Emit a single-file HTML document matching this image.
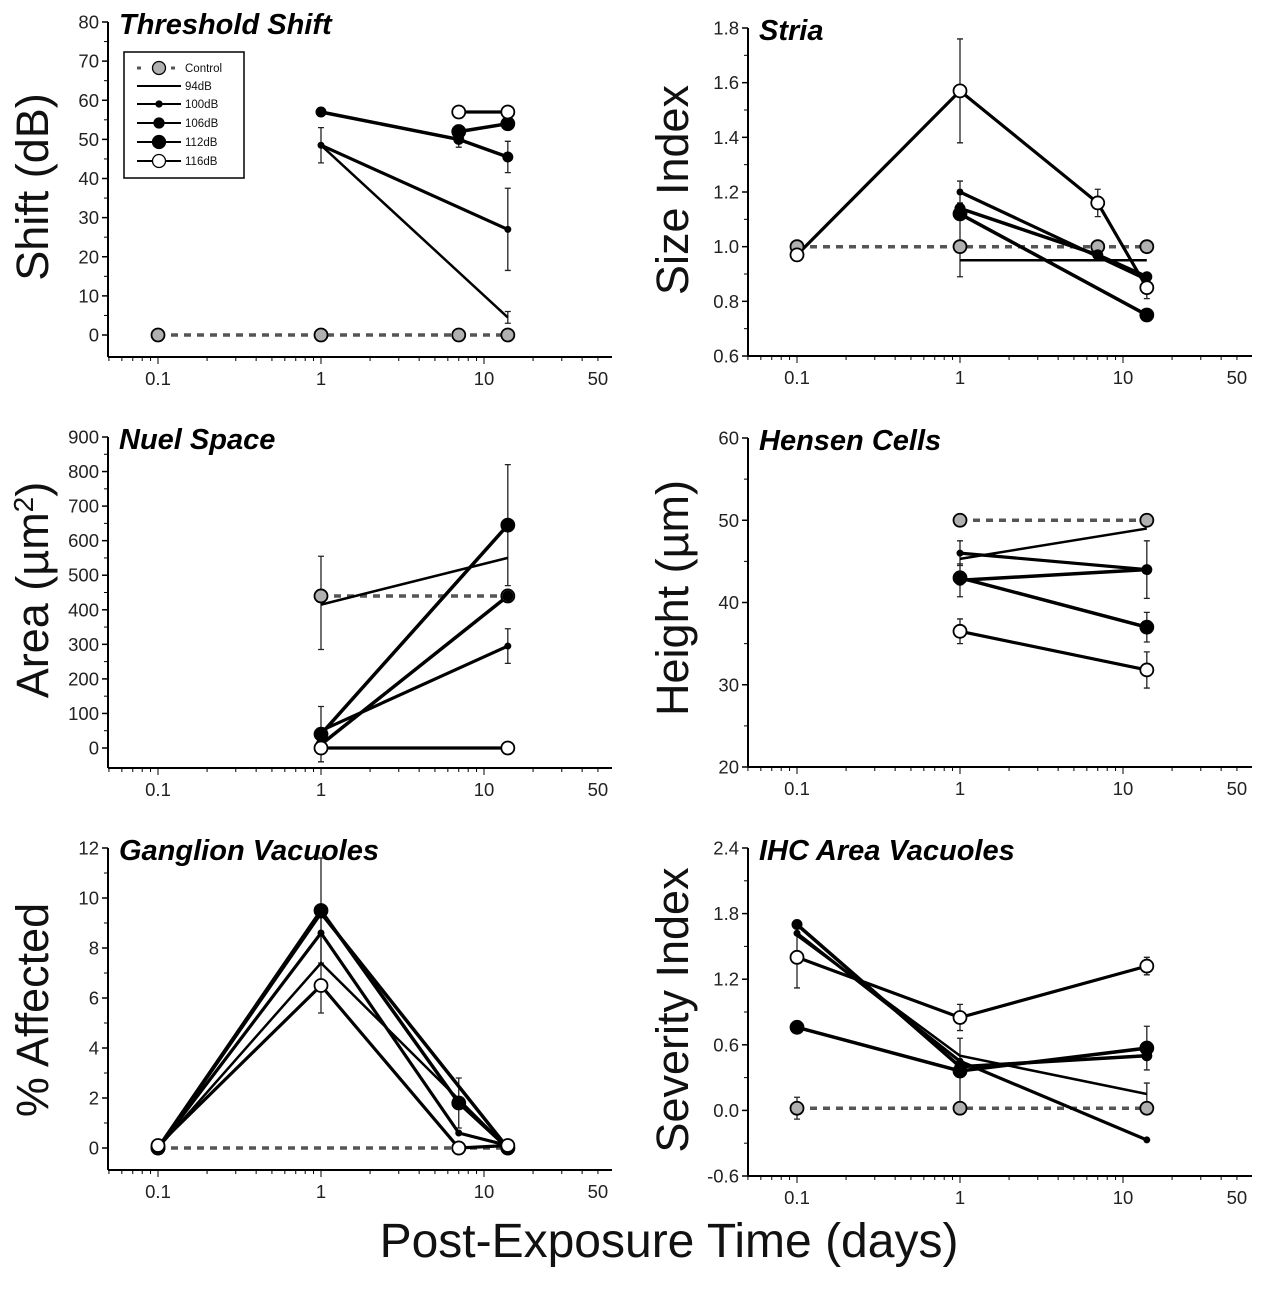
<!DOCTYPE html>
<html><head><meta charset="utf-8">
<style>
html,body{margin:0;padding:0;background:#fff;}
svg{display:block;font-family:"Liberation Sans",Arial,sans-serif;}
</style></head>
<body>
<svg id="fig" width="1276" height="1298" viewBox="0 0 1276 1298" xmlns="http://www.w3.org/2000/svg">
<text x="669" y="1257" font-size="48" text-anchor="middle" fill="#111">Post-Exposure Time (days)</text>
</svg>
<script>
// ---- data (x in days, y values) ----
const timeTicks = [0.1, 1, 10, 50];
const timeTickLabels = ["0.1", "1", "10", "50"];

// Threshold Shift
const tsControl = [[0.1,0],[1,0],[7,0],[14,0]];
const ts94 = [[1,48.5],[14,4.5]];
const ts100 = [[1,48.5],[14,27]];
const ts106 = [[1,57],[7,50],[14,45.5]];
const ts112 = [[7,52],[14,54]];
const ts116 = [[7,57],[14,57]];
const tsErr = [[1,48.5,4.5],[14,27,10.5],[14,45.5,4],[7,50,2],[14,4.5,1.5]];

// Stria
const stControl = [[0.1,1],[1,1],[7,1],[14,1]];
const st94 = [[1,0.95],[14,0.95]];
const st100 = [[1,1.2],[14,0.88]];
const st106 = [[1,1.14],[7,0.97],[14,0.89]];
const st112 = [[1,1.12],[14,0.75]];
const st116 = [[0.1,0.97],[1,1.57],[7,1.16],[14,0.85]];
const stErr = [[1,1.57,0.19],[1,1.0,0.11],[1,1.2,0.04],[7,1.16,0.05],[14,0.85,0.04]];

// Nuel Space
const nsControl = [[1,440],[14,440]];
const ns94 = [[1,415],[14,550]];
const ns100 = [[1,50],[14,295]];
const ns106 = [[1,10],[14,440]];
const ns112 = [[1,40],[14,645]];
const ns116 = [[1,0],[14,0]];
const nsErr = [[1,420,135],[14,645,175],[14,295,50],[1,40,80]];

// Hensen Cells
const hcControl = [[1,50],[14,50]];
const hc94 = [[1,45.3],[14,49]];
const hc100 = [[1,46],[14,44]];
const hc106 = [[1,42.7],[14,44]];
const hc112 = [[1,43],[14,37]];
const hc116 = [[1,36.5],[14,31.8]];
const hcErr = [[1,46,1.5],[1,42.7,2],[14,44,3.5],[14,37,1.8],[1,36.5,1.5],[14,31.8,2.2]];

// Ganglion Vacuoles
const gvControl = [[0.1,0],[7,0],[14,0]];
const gv94 = [[0.1,0],[1,7.4],[14,0]];
const gv100 = [[0.1,0],[1,8.6],[7,0.6],[14,0.1]];
const gv106 = [[0.1,0],[1,9.4],[14,0]];
const gv112 = [[0.1,0],[1,9.5],[7,1.8],[14,0]];
const gv116 = [[0.1,0.1],[1,6.5],[7,0],[14,0.1]];
const gvErr = [[1,9.5,2.1],[1,7.4,2],[7,1.8,1]];

// IHC Area Vacuoles
const ihControl = [[0.1,0.02],[1,0.02],[14,0.02]];
const ih94 = [[0.1,1.6],[1,0.5],[14,0.15]];
const ih100 = [[0.1,1.62],[1,0.45],[14,-0.27]];
const ih106 = [[0.1,1.7],[1,0.4],[14,0.5]];
const ih112 = [[0.1,0.76],[1,0.36],[14,0.57]];
const ih116 = [[0.1,1.4],[1,0.85],[14,1.32]];
const ihErr = [[0.1,1.4,0.28],[1,0.85,0.12],[14,1.32,0.08],[1,0.36,0.3],[14,0.57,0.2],[14,0.15,0.1],[0.1,0.02,0.1]];

const NS = "http://www.w3.org/2000/svg";
const svg = document.getElementById('fig');
function mk(tag, attrs, parent){
  const e = document.createElementNS(NS, tag);
  for (const k in attrs) e.setAttribute(k, attrs[k]);
  (parent||svg).appendChild(e);
  return e;
}

const styles = {
  control:{dash:"7,6", width:3.5, color:"#555", r:6.5, fill:"#b0b0b0"},
  d94:{width:2.5, color:"#000", r:0, fill:"#000"},
  d100:{width:3.2, color:"#000", r:3, fill:"#000"},
  d106:{width:3.5, color:"#000", r:5, fill:"#000"},
  d112:{width:3.5, color:"#000", r:6.5, fill:"#000"},
  d116:{width:3.2, color:"#000", r:6.5, fill:"#fff"}
};

function panel(cfg){
  const g = mk('g', {});
  
  
  const xs = v => cfg.x1 + cfg.dec*Math.log10(v);
  const ys = v => cfg.yTopPx + (cfg.yTop - v)/(cfg.yTop - cfg.yBot)*(cfg.yBotPx - cfg.yTopPx);
  const ya = mk('line', {x1:cfg.ax, y1:cfg.yTopPx, x2:cfg.ax, y2:cfg.axisY, stroke:"#000", "stroke-width":2}, g);
  
  
  const xa = mk('line', {x1:cfg.ax, y1:cfg.axisY, x2:cfg.ax+504, y2:cfg.axisY, stroke:"#000", "stroke-width":2}, g);
  
  
  cfg.yTicks.forEach((t,i)=>{
    const y = ys(t);
    mk('line',{x1:cfg.ax-6,y1:y,x2:cfg.ax,y2:y,stroke:"#000","stroke-width":1.5},g);
    if (i < cfg.yTicks.length-1){
      const ym = ys((t+cfg.yTicks[i+1])/2);
      mk('line',{x1:cfg.ax-4,y1:ym,x2:cfg.ax,y2:ym,stroke:"#000","stroke-width":1},g);
    }
    const tl = mk('text',{x:cfg.ax-9,y:y+6.5,"font-size":18.5,"text-anchor":"end",fill:"#222"},g);
    
    
    tl.textContent = cfg.yTickLabels[i];
  });
  for (let d=0.05; d<=50.001; ){
    const x = xs(d);
    const isMajor = [0.1,1,10].some(m=>Math.abs(m-d)<1e-6);
    mk('line',{x1:x,y1:cfg.axisY,x2:x,y2:cfg.axisY+(isMajor?7:4),stroke:"#000","stroke-width":1},g);
    const step = d<0.0999?0.01:(d<0.999?0.1:(d<9.99?1:10));
    d = Math.round((d+step)*1000)/1000;
  }
  timeTicks.forEach((t,i)=>{
    const tl = mk('text',{x:xs(t),y:cfg.axisY+28,"font-size":18.5,"text-anchor":"middle",fill:"#222"},g);
    
    
    tl.textContent = timeTickLabels[i];
  });
  const tt = mk('text',{x:cfg.ax+11,y:cfg.yTopPx+12,"font-size":29,"font-weight":"bold","font-style":"italic",fill:"#000"},g);
  
  
  tt.textContent = cfg.title;
  const yt = mk('text',{x:0,y:0,"font-size":45,"text-anchor":"middle",fill:"#111",transform:`translate(${cfg.ax-60},${cfg.ytY}) rotate(-90)`},g);
  
  
  yt.innerHTML = cfg.yTitle;
  cfg.err.forEach(e=>{
    const x = xs(e[0]);
    const eb = mk('path',{d:`M${x},${ys(e[1]-e[2])}V${ys(e[1]+e[2])}M${x-3},${ys(e[1]-e[2])}h6M${x-3},${ys(e[1]+e[2])}h6`,stroke:"#222","stroke-width":1.3,fill:"none"},g);
    
    
  });
  cfg.series.forEach(s=>{
    const st = styles[s.key];
    const pts = s.data.map(p=>xs(p[0]).toFixed(1)+","+ys(p[1]).toFixed(1)).join(" ");
    const pl = mk('polyline',{points:pts,fill:"none",stroke:st.color,"stroke-width":st.width,"stroke-dasharray":st.dash||"none"},g);
    
    
  });
  cfg.series.forEach(s=>{
    const st = styles[s.key];
    if (!st.r) return;
    s.data.forEach(p=>{
      const c = mk('circle',{cx:xs(p[0]),cy:ys(p[1]),r:st.r,fill:st.fill,stroke:"#000","stroke-width":st.r>5?1.8:1},g);
      
      
    });
  });
}

function ser(c,a,b,d,e,f){return [{key:'control',data:c},{key:'d94',data:a},{key:'d100',data:b},{key:'d106',data:d},{key:'d112',data:e},{key:'d116',data:f}];}

panel({name:'threshold-shift-panel',title:'Threshold Shift',yTitle:'Shift (dB)',ax:108,x1:321,dec:163,
  yTop:80,yBot:0,yTopPx:22,yBotPx:335,axisY:357,ytY:187,
  yTicks:[0,10,20,30,40,50,60,70,80],yTickLabels:["0","10","20","30","40","50","60","70","80"],
  err:tsErr,series:ser(tsControl,ts94,ts100,ts106,ts112,ts116)});
panel({name:'stria-panel',title:'Stria',yTitle:'Size Index',ax:748,x1:960,dec:163,
  yTop:1.8,yBot:0.6,yTopPx:28,yBotPx:356,axisY:356,ytY:190,
  yTicks:[0.6,0.8,1.0,1.2,1.4,1.6,1.8],yTickLabels:["0.6","0.8","1.0","1.2","1.4","1.6","1.8"],
  err:stErr,series:ser(stControl,st94,st100,st106,st112,st116)});
panel({name:'nuel-space-panel',title:'Nuel Space',yTitle:'Area (&#181;m<tspan font-size="28" dy="-15">2</tspan><tspan dy="15">)</tspan>',ax:108,x1:321,dec:163,
  yTop:900,yBot:0,yTopPx:437,yBotPx:748,axisY:768,ytY:590,
  yTicks:[0,100,200,300,400,500,600,700,800,900],yTickLabels:["0","100","200","300","400","500","600","700","800","900"],
  err:nsErr,series:ser(nsControl,ns94,ns100,ns106,ns112,ns116)});
panel({name:'hensen-cells-panel',title:'Hensen Cells',yTitle:'Height (&#181;m)',ax:748,x1:960,dec:163,
  yTop:60,yBot:20,yTopPx:438,yBotPx:767,axisY:767,ytY:598,
  yTicks:[20,30,40,50,60],yTickLabels:["20","30","40","50","60"],
  err:hcErr,series:ser(hcControl,hc94,hc100,hc106,hc112,hc116)});
panel({name:'ganglion-vacuoles-panel',title:'Ganglion Vacuoles',yTitle:'% Affected',ax:108,x1:321,dec:163,
  yTop:12,yBot:0,yTopPx:848,yBotPx:1148,axisY:1170,ytY:1010,
  yTicks:[0,2,4,6,8,10,12],yTickLabels:["0","2","4","6","8","10","12"],
  err:gvErr,series:ser(gvControl,gv94,gv100,gv106,gv112,gv116)});
panel({name:'ihc-area-vacuoles-panel',title:'IHC Area Vacuoles',yTitle:'Severity Index',ax:748,x1:960,dec:163,
  yTop:2.4,yBot:-0.6,yTopPx:848,yBotPx:1176,axisY:1176,ytY:1010,
  yTicks:[-0.6,0,0.6,1.2,1.8,2.4],yTickLabels:["-0.6","0.0","0.6","1.2","1.8","2.4"],
  err:ihErr,series:ser(ihControl,ih94,ih100,ih106,ih112,ih116)});

// legend
const lg = mk('g',{});


mk('rect',{x:124,y:52,width:120,height:126,fill:"#fff",stroke:"#000","stroke-width":1.5},lg);
const legKeys = ['control','d94','d100','d106','d112','d116'];
const legLabels = ['Control','94dB','100dB','106dB','112dB','116dB'];
const legY = [68,86,104,123,142,161];
legKeys.forEach((k,i)=>{
  const st = styles[k];
  const e = mk('g',{},lg);
  
  
  if (k==='control'){
    mk('line',{x1:137,y1:legY[i],x2:181,y2:legY[i],stroke:st.color,"stroke-width":3,"stroke-dasharray":"4,13"},e);
  } else {
    mk('line',{x1:137,y1:legY[i],x2:181,y2:legY[i],stroke:"#000","stroke-width":2},e);
  }
  if (st.r) mk('circle',{cx:159,cy:legY[i],r:Math.min(st.r,6.5),fill:st.fill,stroke:"#000","stroke-width":1.3},e);
  const t = mk('text',{x:185,y:legY[i]+4,"font-size":11.5,fill:"#111"},e);
  t.textContent = legLabels[i];
});
</script>
</body></html>
